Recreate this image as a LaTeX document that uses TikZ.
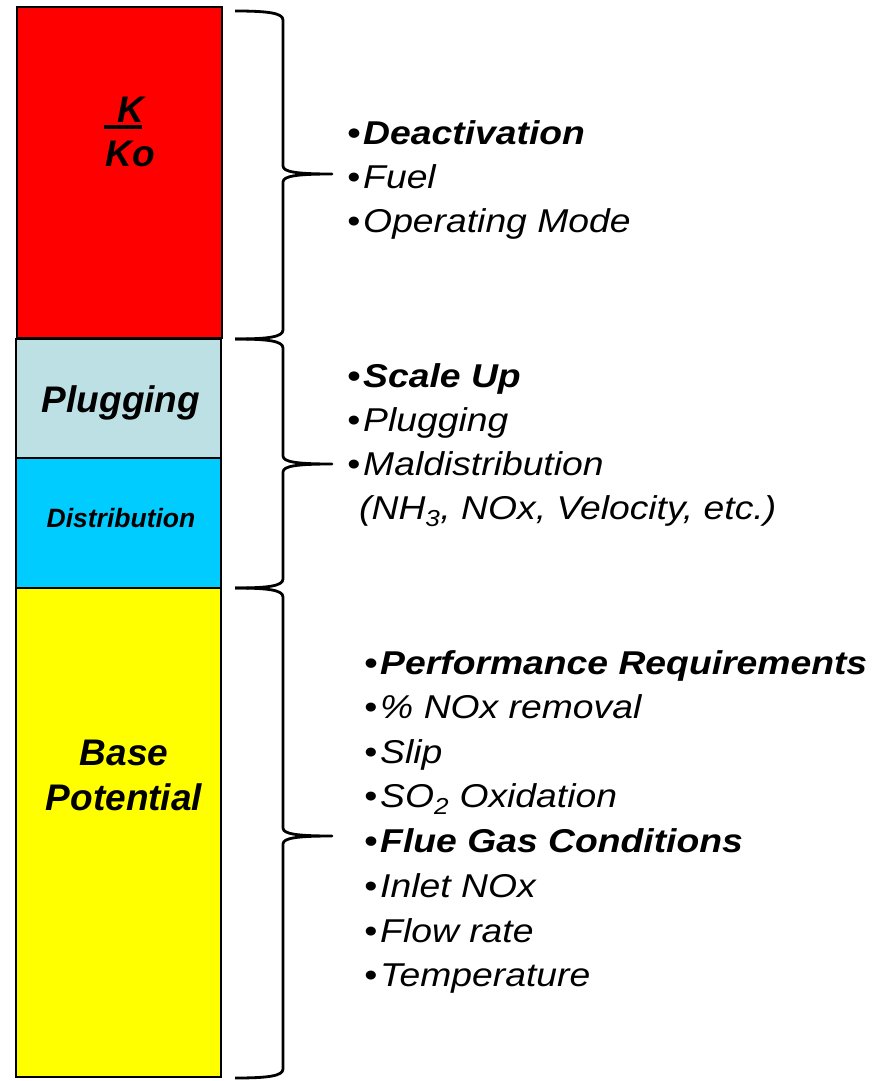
\documentclass[tikz,border=0pt]{standalone}
\usepackage{fontspec}
\setmainfont{Liberation Sans}
\newfontfamily\itemfont{Liberation Sans}[FakeStretch=1.13]
\usepackage{tikz}
\usetikzlibrary{positioning}
\definecolor{kred}{RGB}{255, 0, 0}
\definecolor{plugblue}{RGB}{189, 224, 228}
\definecolor{distblue}{RGB}{0, 204, 255}
\definecolor{baseyellow}{RGB}{255, 255, 0}
\newcommand{\bul}{•\kern3pt}
\tikzset{
  layer/.style={draw=black, line width=2pt},
  layerlabel/.style={anchor=base, inner sep=0pt, font=\bfseries\itshape\fontsize{37}{44}\selectfont},
  item/.style={anchor=base west, inner sep=0pt, font=\itemfont\itshape\fontsize{33}{38}\selectfont},
  bracket/.style={line width=2.8pt, line join=round},
}
% curly bracket: top, tip, bottom
\newcommand{\curly}[3]{%
  \draw[bracket] (235,#1) .. controls (268,#1) and (283,{#1+2}) .. (283,{#1+9})
    -- (283,{#2-8}) .. controls (283,{#2-2}) and (297,#2) .. (332,#2)
    .. controls (297,#2) and (283,{#2+2}) .. (283,{#2+8})
    -- (283,{#3-9}) .. controls (283,{#3-2}) and (268,#3) .. (235,#3);}

\begin{document}
\begin{tikzpicture}[x=1pt, y=-1pt]
            \useasboundingbox (0,0) rectangle (879,1081);
            % stacked column
            \draw[layer, fill=kred] (17,7) rectangle (222,338);
            \draw[layer, fill=plugblue] (16,339) rectangle (221,458);
            \draw[layer, fill=distblue] (16,458) rectangle (221,588);
            \draw[layer, fill=baseyellow] (16,588) rectangle (221,1077);
            
            \node[layerlabel] (k) at (131,122) {K};
            \node[layerlabel] (ko) at (130,166) {Ko};
            \draw[line width=3.5pt] (104,127) -- (142,127);
            \node[layerlabel] (plug) at (121,412) {Plugging};
            \node[layerlabel, font=\bfseries\itshape\fontsize{26.5}{30}\selectfont] (dist) at (121,527) {Distribution};
            \node[layerlabel] (base) at (124,765) {Base};
            \node[layerlabel] (potential) at (124,810) {Potential};
            
            % brackets
            \curly{11}{174}{339}
            \curly{339}{464}{588}
            \curly{588}{836}{1078}
            
            % factors
            \node[item] (deact) at (347,144) {\textbf{\bul Deactivation}};
            \node[item] (fuel) at (347,188) {\bul Fuel};
            \node[item] (opmode) at (347,232) {\bul Operating Mode};
            
            \node[item] (scaleup) at (347,387) {\textbf{\bul Scale Up}};
            \node[item] (plugging) at (347,431) {\bul Plugging};
            \node[item] (maldist) at (347,475) {\bul Maldistribution};
            \node[item] (species) at (359,519) {(NH\textsubscript{3}, NOx, Velocity, etc.)};
            
            \node[item] (perf) at (364,674) {\textbf{\bul Performance Requirements}};
            \node[item] (removal) at (364,718) {\bul\% NOx removal};
            \node[item] (slip) at (364,763) {\bul Slip};
            \node[item] (so2) at (364,807) {\bul SO\textsubscript{2} Oxidation};
            \node[item] (flue) at (364,852) {\textbf{\bul Flue Gas Conditions}};
            \node[item] (inlet) at (364,897) {\bul Inlet NOx};
            \node[item] (flow) at (364,942) {\bul Flow rate};
            \node[item] (temp) at (364,986) {\bul Temperature};
        \end{tikzpicture}
\end{document}
